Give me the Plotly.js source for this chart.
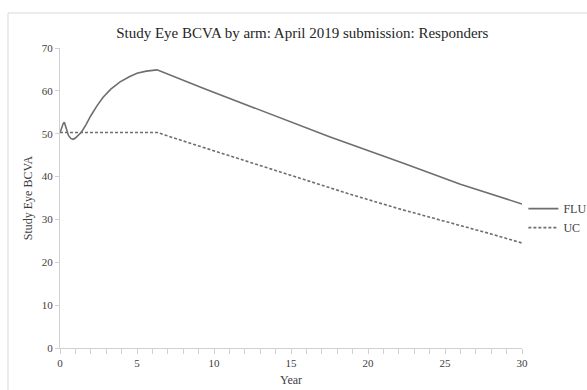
<!DOCTYPE html>
<html>
<head>
<meta charset="utf-8">
<script src="https://cdn.plot.ly/plotly-3.0.1.min.js"></script>
<style>
html,body{margin:0;padding:0;background:#fff;}
#chart{width:587px;height:390px;}
</style>
</head>
<body>
<div id="chart"></div>
<script>
// Data
var fluYears = [0, 0.1, 0.2, 0.28, 0.4, 0.55, 0.7, 0.85, 1.0, 1.2, 1.4, 1.7, 2.0, 2.4, 2.8, 3.3, 3.9, 4.5, 5.0, 5.6, 6.3, 9.3, 13.2, 17.5, 22.3, 26, 30];
var fluBCVA  = [50.2, 51.3, 52.3, 52.7, 51.3, 49.6, 48.9, 48.7, 49.0, 49.6, 50.4, 52.2, 54.2, 56.5, 58.5, 60.4, 62.1, 63.3, 64.1, 64.6, 64.9, 60.6, 55.2, 49.3, 43.1, 38.2, 33.6];
var ucYears  = [0, 6.3, 8, 10, 13, 16, 19, 22, 25, 28, 30];
var ucBCVA   = [50.3, 50.3, 48.3, 46.0, 42.5, 39.0, 35.7, 32.5, 29.6, 26.6, 24.5];
var seriesNames = ["FLU", "UC"];
var chartTitle = "Study Eye BCVA by arm: April 2019 submission: Responders";
var xTitle = "Year";
var yTitle = "Study Eye BCVA";

var serif = "Liberation Serif, Times New Roman, serif";
var traces = [
  {x: fluYears, y: fluBCVA, name: seriesNames[0], type: "scatter", mode: "lines",
   line: {color: "#6e6e6e", width: 1.6}},
  {x: ucYears, y: ucBCVA, name: seriesNames[1], type: "scatter", mode: "lines",
   line: {color: "#6e6e6e", width: 1.6, dash: "3px,2px"}}
];
var layout = {
  width: 587, height: 390,
  margin: {l: 60, r: 65, t: 48, b: 42, autoexpand: false},
  paper_bgcolor: "#fff", plot_bgcolor: "#fff",
  font: {family: serif, color: "#404040", size: 11},
  title: {text: chartTitle, font: {family: serif, size: 15, color: "#262626"},
          x: 0.515, xanchor: "center", y: 0.915, yanchor: "middle"},
  xaxis: {range: [0, 30], dtick: 5, tick0: 0, showgrid: false, zeroline: false,
          showline: true, linecolor: "#d0d0d0", linewidth: 1,
          ticks: "outside", ticklen: 5, tickcolor: "#d0d0d0",
          minor: {dtick: 1, ticks: "outside", ticklen: 5, tickcolor: "#d0d0d0"},
          tickfont: {family: serif, size: 11, color: "#404040"},
          title: {text: xTitle, font: {family: serif, size: 12, color: "#404040"}, standoff: 7}},
  yaxis: {range: [0, 70], dtick: 10, showgrid: false, zeroline: false,
          showline: true, linecolor: "#d0d0d0", linewidth: 1,
          ticks: "outside", ticklen: 4, tickcolor: "#d0d0d0",
          tickfont: {family: serif, size: 11, color: "#404040"},
          title: {text: yTitle, font: {family: serif, size: 12, color: "#404040"}, standoff: 6}},
  showlegend: true,
  legend: {x: 1.003, xanchor: "left", y: 0.433, yanchor: "middle",
           font: {family: serif, size: 12, color: "#404040"},
           bgcolor: "rgba(0,0,0,0)", borderwidth: 0, itemwidth: 30, tracegroupgap: 0},
  shapes: [{type: "rect", xref: "paper", yref: "paper",
            x0: -0.1126, x1: 1.3, y0: -0.2, y1: 1.1167,
            line: {color: "#d9d9d9", width: 1}, fillcolor: "rgba(0,0,0,0)", layer: "below"}]
};
Plotly.newPlot("chart", traces, layout, {displayModeBar: false, staticPlot: true});
</script>
</body>
</html>
